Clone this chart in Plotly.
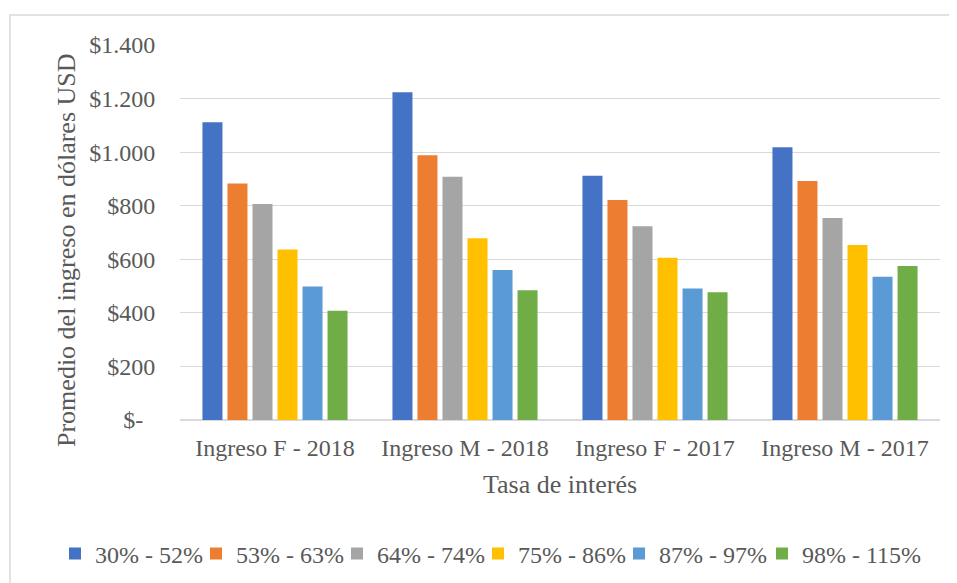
import plotly.graph_objects as go

categories = ["Ingreso F - 2018", "Ingreso M - 2018", "Ingreso F - 2017", "Ingreso M - 2017"]
series_names = ["30% - 52%", "53% - 63%", "64% - 74%", "75% - 86%", "87% - 97%", "98% - 115%"]
s1 = [1112, 1224, 912, 1018]
s2 = [883, 988, 821, 892]
s3 = [806, 908, 723, 754]
s4 = [637, 679, 606, 653]
s5 = [498, 560, 491, 535]
s6 = [408, 484, 477, 575]
series_values = [s1, s2, s3, s4, s5, s6]
colors = ["#4472C4", "#ED7D31", "#A5A5A5", "#FFC000", "#5B9BD5", "#70AD47"]
tick_vals = [0, 200, 400, 600, 800, 1000, 1200, 1400]
tick_text = ["$-\u00a0\u00a0", "$200", "$400", "$600", "$800", "$1.000", "$1.200", "$1.400"]

FONT = "Times New Roman, Liberation Serif, serif"
GRAY = "#595959"

# layout geometry (page pixels): plot area x 180..940, y 45..420
PLOT_L, PLOT_W, PLOT_B, PLOT_H = 180, 760, 420, 375
legend_marker_centers = [77, 218, 359, 500, 641, 784]

fig = go.Figure()
legend_layout = {}
for i, (name, vals, col) in enumerate(zip(series_names, series_values, colors)):
    lid = "legend" if i == 0 else "legend%d" % (i + 1)
    fig.add_trace(go.Bar(x=categories, y=vals, name=name, legend=lid,
                         marker=dict(color=col, line=dict(width=0))))
    legend_layout[lid] = dict(orientation="h", xref="paper",
                              x=(legend_marker_centers[i] - 22 - PLOT_L) / PLOT_W, xanchor="left",
                              yref="paper", y=(PLOT_B - 554) / PLOT_H, yanchor="middle",
                              font=dict(family=FONT, size=24, color=GRAY),
                              bgcolor="rgba(0,0,0,0)", itemclick=False)

fig.update_layout(
    width=949, height=575,
    margin=dict(l=172, r=17, t=37, b=163, autoexpand=False),
    paper_bgcolor="white", plot_bgcolor="white",
    barmode="group", bargap=0.21, bargroupgap=0.2,
    font=dict(family=FONT, size=24, color=GRAY),
    showlegend=True,
    xaxis=dict(showgrid=False, showline=False, zeroline=False,
               ticks="outside", ticklen=6, tickcolor="rgba(0,0,0,0)",
               tickfont=dict(family=FONT, size=24, color=GRAY),
               title=dict(text="Tasa de interés", font=dict(family=FONT, size=26, color=GRAY), standoff=15)),
    yaxis=dict(range=[0, 1400], tickvals=tick_vals, ticktext=tick_text,
               showgrid=True, gridcolor="#D9D9D9", gridwidth=1,
               zeroline=True, zerolinecolor="#D9D9D9", zerolinewidth=1.5,
               showline=False, ticks="outside", ticklen=19, tickcolor="rgba(0,0,0,0)",
               tickfont=dict(family=FONT, size=24, color=GRAY)),
    annotations=[dict(text="Promedio del ingreso en dólares USD", textangle=-90,
                      xref="paper", yref="paper", x=(66 - PLOT_L) / PLOT_W, y=(PLOT_B - 250) / PLOT_H,
                      xanchor="center", yanchor="middle", showarrow=False,
                      font=dict(family=FONT, size=26, color=GRAY))],
    shapes=[dict(type="rect", xref="paper", yref="paper",
                 x0=(10 - PLOT_L) / PLOT_W, x1=1.2, y0=-1.0, y1=(PLOT_B - 15) / PLOT_H,
                 line=dict(color="#D9D9D9", width=1.5), fillcolor="rgba(0,0,0,0)", layer="below")],
)
fig.update_layout(**legend_layout)

fig.write_html("out.html")
